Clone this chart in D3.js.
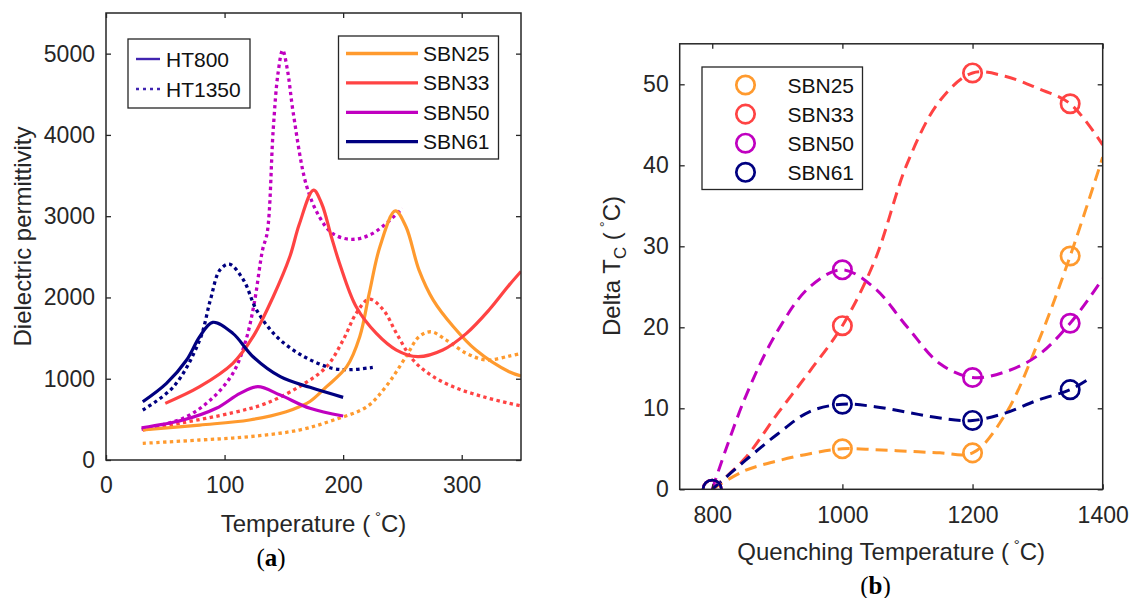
<!DOCTYPE html>
<html>
<head>
<meta charset="utf-8">
<script src="https://cdn.jsdelivr.net/npm/d3@7"></script>
<style>
  body { margin: 0; background: #fff; }
  text { font-family: "Liberation Sans", Arial, sans-serif; }
</style>
</head>
<body>
<script>
// ---- panel (a): permittivity vs temperature, pairs of [T (degC), eps] ----
var sbn25_ht800 = [[31,369],[79,430],[121,492],[152,594],[163,656],[172,720],[186,902],[203,1148],[214,1517],[222,2050],[231,2624],[244,3066],[253,2870],[264,2337],[276,1968],[293,1640],[312,1353],[340,1086],[350,1035]];
var sbn25_ht1350 = [[31,205],[79,246],[121,287],[163,369],[192,492],[220,656],[236,902],[253,1271],[264,1517],[274,1578],[287,1476],[304,1312],[321,1230],[340,1279],[350,1310]];
var sbn33_ht800 = [[50,697],[79,902],[107,1189],[124,1517],[141,2009],[155,2500],[163,2900],[175,3321],[182,3150],[190,2750],[197,2419],[211,1886],[228,1558],[245,1353],[263,1271],[284,1353],[304,1558],[323,1845],[340,2152],[350,2320]];
var sbn33_ht1350 = [[31,369],[65,459],[107,582],[135,697],[165,920],[186,1148],[200,1476],[211,1804],[222,1980],[234,1845],[245,1558],[259,1230],[276,1025],[296,882],[318,779],[340,697],[350,665]];
var sbn50_ht800 = [[30,397],[65,492],[93,636],[113,820],[128,902],[147,799],[172,636],[200,541]];
var sbn50_ht1350 = [[30,377],[65,513],[88,738],[107,1066],[118,1476],[125,1927],[132,2583],[136,2800],[141,4059],[145,4750],[149,5043],[153,4800],[158,4262],[169,3380],[180,2992],[191,2788],[207,2715],[225,2788],[250,3096]];
var sbn61_ht800 = [[31,717],[51,943],[68,1230],[79,1517],[90,1694],[107,1558],[124,1271],[147,1025],[172,894],[200,771]];
var sbn61_ht1350 = [[31,615],[57,902],[79,1476],[88,1968],[96,2337],[104,2411],[116,2214],[127,1845],[144,1517],[166,1280],[191,1128],[207,1112],[225,1140]];

// ---- panel (b): shift of Tc vs quenching temperature ----
var quenchTemps = [800, 1000, 1200, 1350];
var dtc_sbn25 = [0, 5.0, 4.5, 28.8];
var dtc_sbn33 = [0, 20.2, 51.4, 47.6];
var dtc_sbn50 = [0, 27.1, 13.8, 20.5];
var dtc_sbn61 = [0, 10.5, 8.5, 12.3];
// dashed guide curves
var fit_sbn25 = [[800,0],[850,2.3],[900,3.5],[950,4.4],[1000,5.0],[1050,4.9],[1100,4.7],[1150,4.5],[1200,4.5],[1250,9.2],[1300,18],[1350,28.8],[1400,41]];
var fit_sbn33 = [[800,0],[850,3.8],[900,9.3],[950,14.6],[1000,20.2],[1050,28.3],[1100,40.3],[1150,48.0],[1200,51.4],[1250,51.0],[1300,49.5],[1350,47.6],[1400,42.5]];
var fit_sbn50 = [[800,0],[850,11.2],[900,19.5],[950,25],[1000,27.1],[1050,24.8],[1100,20.0],[1150,15.5],[1200,13.8],[1250,14.5],[1300,16.5],[1350,20.5],[1400,26]];
var fit_sbn61 = [[800,0],[850,3.5],[900,6.8],[950,9.6],[1000,10.5],[1050,10.2],[1100,9.5],[1150,8.8],[1200,8.5],[1250,9.4],[1300,11.0],[1350,12.3],[1380,13.7]];

var seriesNames = ["SBN25", "SBN33", "SBN50", "SBN61"];
var seriesColors = ["#ff9a2e", "#ff4343", "#c000c0", "#000080"];
var htNames = ["HT800", "HT1350"];

var tempTicks = [0, 100, 200, 300];
var permTicks = [0, 1000, 2000, 3000, 4000, 5000];
var quenchTicks = [800, 1000, 1200, 1400];
var dtcTicks = [0, 10, 20, 30, 40, 50];

var ink = "#262626";
var svg = d3.select("body").append("svg")
    .attr("width", 1136)
    .attr("height", 598);

var xa = d3.scaleLinear().domain([0, 350]).range([106, 521]);
var ya = d3.scaleLinear().domain([0, 5500]).range([460, 13]);
var xb = d3.scaleLinear().domain([750, 1400]).range([679.7, 1102.7]);
var yb = d3.scaleLinear().domain([0, 55]).range([489.3, 43.8]);

function frame(id, x, y, xt, yt) {
  var l = x.range()[0], r = x.range()[1], b = y.range()[0], t = y.range()[1];
  svg.append("clipPath").attr("id", id)
    .append("rect").attr("x", l).attr("y", t).attr("width", r - l).attr("height", b - t);

  var axes = [
    [d3.axisBottom(x).tickValues(xt).tickPadding(17), "translate(0," + b + ")", true],
    [d3.axisLeft(y).tickValues(yt).tickPadding(11), "translate(" + l + ",0)", true],
    [d3.axisTop(x).tickValues(xt), "translate(0," + t + ")", false],
    [d3.axisRight(y).tickValues(yt), "translate(" + r + ",0)", false]
  ];
  axes.forEach(function (a) {
    var ax = a[0].tickSizeInner(-5).tickSizeOuter(0);
    ax.tickFormat(a[2] ? d3.format("d") : "");
    var g = svg.append("g").attr("transform", a[1]).call(ax);
    g.select(".domain").remove();
    g.selectAll("line").attr("stroke", ink).attr("stroke-width", 1.3);
    g.selectAll("text").attr("fill", ink).style("font-size", "23px")
      .style("font-family", '"Liberation Sans", Arial, sans-serif');
  });
  svg.append("rect").attr("x", l).attr("y", t).attr("width", r - l).attr("height", b - t)
    .attr("fill", "none").attr("stroke", ink).attr("stroke-width", 1.5);
}

// ---------- panel (a) ----------
var lineA = d3.line()
    .x(function (d) { return xa(d[0]); })
    .y(function (d) { return ya(d[1]); })
    .curve(d3.curveCatmullRom.alpha(0.5));

var plotA = svg.append("g").attr("clip-path", "url(#clipA)");
var solidA = [sbn25_ht800, sbn33_ht800, sbn50_ht800, sbn61_ht800];
var dottedA = [sbn25_ht1350, sbn33_ht1350, sbn50_ht1350, sbn61_ht1350];
dottedA.forEach(function (s, i) {
  plotA.append("path").attr("d", lineA(s))
    .attr("fill", "none").attr("stroke", seriesColors[i])
    .attr("stroke-width", 3.3).attr("stroke-dasharray", "3.4,3.4");
});
solidA.forEach(function (s, i) {
  plotA.append("path").attr("d", lineA(s))
    .attr("fill", "none").attr("stroke", seriesColors[i])
    .attr("stroke-width", 3.2);
});
frame("clipA", xa, ya, tempTicks, permTicks);

// legend: heat treatment
var lg1 = svg.append("g");
lg1.append("rect").attr("x", 128).attr("y", 39).attr("width", 122).attr("height", 69)
  .attr("fill", "#fff").attr("stroke", ink).attr("stroke-width", 1.3);
htNames.forEach(function (n, i) {
  var yy = 59 + i * 30;
  lg1.append("line").attr("x1", 136).attr("x2", 160).attr("y1", yy).attr("y2", yy)
    .attr("stroke", "#4024b0").attr("stroke-width", 2.4)
    .attr("stroke-dasharray", i ? "3,4" : null);
  lg1.append("text").attr("x", 166).attr("y", yy + 7.5).text(n)
    .style("font-size", "21px").attr("fill", "#111");
});

// legend: compositions
var lg2 = svg.append("g");
lg2.append("rect").attr("x", 338.5).attr("y", 36).attr("width", 160).attr("height", 123)
  .attr("fill", "#fff").attr("stroke", ink).attr("stroke-width", 1.3);
seriesNames.forEach(function (n, i) {
  var yy = 53.5 + i * 29.4;
  lg2.append("line").attr("x1", 346).attr("x2", 418).attr("y1", yy).attr("y2", yy)
    .attr("stroke", seriesColors[i]).attr("stroke-width", 3.3);
  lg2.append("text").attr("x", 423).attr("y", yy + 7.5).text(n)
    .style("font-size", "21px").attr("fill", "#111");
});

// axis labels (a)
svg.append("text").attr("transform", "translate(31,236.5) rotate(-90)")
  .attr("text-anchor", "middle").attr("fill", ink).style("font-size", "24px")
  .text("Dielectric permittivity");

var xlabA = svg.append("text").attr("x", 313.5).attr("y", 532)
  .attr("text-anchor", "middle").attr("fill", ink).style("font-size", "24px");
xlabA.append("tspan").text("Temperature (\u2009");
xlabA.append("tspan").attr("dy", -10).style("font-size", "15px").text("\u00b0");
xlabA.append("tspan").attr("dy", 10).text("C)");

var capA = svg.append("text").attr("x", 271).attr("y", 566).attr("text-anchor", "middle")
  .style("font-family", '"Liberation Serif", "Times New Roman", serif')
  .style("font-size", "25px").attr("fill", "#000");
capA.append("tspan").text("(");
capA.append("tspan").style("font-weight", "bold").text("a");
capA.append("tspan").text(")");

// ---------- panel (b) ----------
var lineB = d3.line()
    .x(function (d) { return xb(d[0]); })
    .y(function (d) { return yb(d[1]); })
    .curve(d3.curveCatmullRom.alpha(0.5));

var plotB = svg.append("g").attr("clip-path", "url(#clipB)");
var fitsB = [fit_sbn25, fit_sbn33, fit_sbn50, fit_sbn61];
var dtcB = [dtc_sbn25, dtc_sbn33, dtc_sbn50, dtc_sbn61];
fitsB.forEach(function (s, i) {
  plotB.append("path").attr("d", lineB(s))
    .attr("fill", "none").attr("stroke", seriesColors[i])
    .attr("stroke-width", 3).attr("stroke-dasharray", "12,7");
});
dtcB.forEach(function (vals, i) {
  plotB.selectAll(null).data(vals).enter().append("circle")
    .attr("cx", function (d, j) { return xb(quenchTemps[j]); })
    .attr("cy", function (d) { return yb(d); })
    .attr("r", 9.2)
    .attr("fill", "none").attr("stroke", seriesColors[i]).attr("stroke-width", 2.7);
});
frame("clipB", xb, yb, quenchTicks, dtcTicks);

var lg3 = svg.append("g");
lg3.append("rect").attr("x", 702).attr("y", 67).attr("width", 160.5).attr("height", 122.5)
  .attr("fill", "#fff").attr("stroke", ink).attr("stroke-width", 1.3);
seriesNames.forEach(function (n, i) {
  var yy = 85 + i * 29.1;
  lg3.append("circle").attr("cx", 745.5).attr("cy", yy).attr("r", 9.2)
    .attr("fill", "none").attr("stroke", seriesColors[i]).attr("stroke-width", 2.7);
  lg3.append("text").attr("x", 787.5).attr("y", yy + 7.5).text(n)
    .style("font-size", "21px").attr("fill", "#111");
});

var ylabB = svg.append("text").attr("transform", "translate(620,266) rotate(-90)")
  .attr("text-anchor", "middle").attr("fill", ink).style("font-size", "24px");
ylabB.append("tspan").text("Delta T");
ylabB.append("tspan").attr("dy", 6).style("font-size", "17px").text("C");
ylabB.append("tspan").attr("dy", -6).text(" (\u2009");
ylabB.append("tspan").attr("dy", -10).style("font-size", "15px").text("\u00b0");
ylabB.append("tspan").attr("dy", 10).text("C)");

var xlabB = svg.append("text").attr("x", 891.2).attr("y", 560)
  .attr("text-anchor", "middle").attr("fill", ink).style("font-size", "24px");
xlabB.append("tspan").text("Quenching Temperature (\u2009");
xlabB.append("tspan").attr("dy", -10).style("font-size", "15px").text("\u00b0");
xlabB.append("tspan").attr("dy", 10).text("C)");

var capB = svg.append("text").attr("x", 875.5).attr("y", 594).attr("text-anchor", "middle")
  .style("font-family", '"Liberation Serif", "Times New Roman", serif')
  .style("font-size", "25px").attr("fill", "#000");
capB.append("tspan").text("(");
capB.append("tspan").style("font-weight", "bold").text("b");
capB.append("tspan").text(")");
</script>
</body>
</html>
